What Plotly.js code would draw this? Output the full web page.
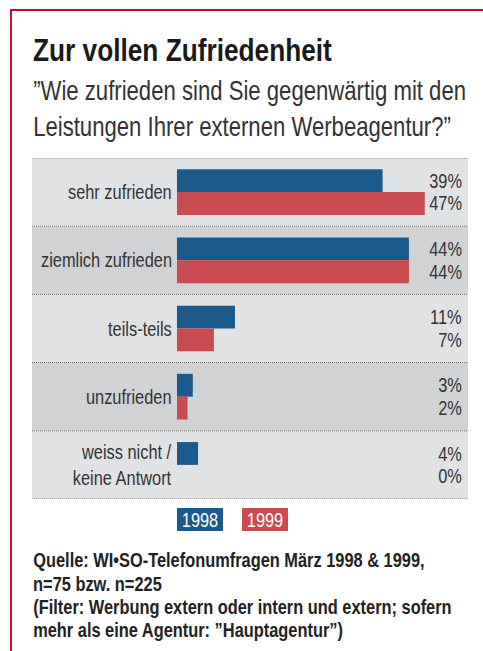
<!DOCTYPE html>
<html>
<head>
<meta charset="utf-8">
<script src="https://cdn.plot.ly/plotly-3.0.1.min.js"></script>
<style>html,body{margin:0;padding:0;background:#fff;}</style>
</head>
<body>
<div id="chart" style="width:483px;height:651px;"></div>
<script>
const categories = ["sehr zufrieden", "ziemlich zufrieden", "teils-teils", "unzufrieden", "weiss nicht /<br>keine Antwort"];
const values1998 = [39, 44, 11, 3, 4];
const values1999 = [47, 44, 7, 2, 0];
const seriesNames = ["1998", "1999"];
const titleText = "Zur vollen Zufriedenheit";
const subtitleLines = ["\u201DWie zufrieden sind Sie gegenwärtig mit den", "Leistungen Ihrer externen Werbeagentur?\u201D"];
const sourceLines = [
  "Quelle: WI\u2022SO-Telefonumfragen März 1998 & 1999,",
  "n=75 bzw. n=225",
  "(Filter: Werbung extern oder intern und extern; sofern",
  "mehr als eine Agentur: \u201DHauptagentur\u201D)"
];

const W = 483, H = 651;
const mL = 32, mR = 15, mT = 158, mB = 152;
const pw = W - mL - mR, ph = H - mT - mB;
const px = x => (x - mL) / pw;
const py = y => 1 - (y - mT) / ph;

const FONT = "Liberation Sans, Arial, sans-serif";
const NARROW = 0.82;
const BLUE = "#1c5a8b", RED = "#c94a4f", TXT = "#333333";
const LIGHT = "#e1e2e4", DARK = "#d1d2d4";

const traces = [
  {type: "bar", orientation: "h", name: seriesNames[0], y: categories, x: values1998,
   marker: {color: BLUE}, hoverinfo: "none"},
  {type: "bar", orientation: "h", name: seriesNames[1], y: categories, x: values1999,
   marker: {color: RED}, hoverinfo: "none"}
];

const shapes = [];
categories.forEach((c, i) => {
  shapes.push({type: "rect", xref: "paper", yref: "y", x0: 0, x1: 1, y0: i - 0.5, y1: i + 0.5,
    fillcolor: i % 2 === 0 ? LIGHT : DARK, line: {width: 0}, layer: "below"});
});
for (let i = 0; i <= categories.length; i++) {
  shapes.push({type: "line", xref: "paper", yref: "y", x0: 0, x1: 1, y0: i - 0.5, y1: i - 0.5,
    line: {color: "#6a6a6a", width: 1, dash: "1px,1px"}, layer: "above"});
}
// red frame
shapes.push({type: "line", xref: "paper", yref: "paper", x0: px(10), x1: px(490), y0: py(10), y1: py(10),
  line: {color: "#c8102e", width: 2}});
shapes.push({type: "line", xref: "paper", yref: "paper", x0: px(11), x1: px(11), y0: py(9), y1: py(660),
  line: {color: "#c8102e", width: 2}});

const ann = [];
const anchorMode = [];
function add(a, mode) { ann.push(a); anchorMode.push(mode); }

add({xref: "paper", yref: "paper", x: px(31), y: py(49.5), xanchor: "left", yanchor: "middle",
  text: "<b>" + titleText + "</b>", showarrow: false, font: {family: FONT, size: 32, color: "#1a1a1a"}}, "left");
const subBase = [101, 136.5];
subtitleLines.forEach((t, i) => {
  add({xref: "paper", yref: "paper", x: px(31), y: py(subBase[i] - 9.5), xanchor: "left", yanchor: "middle",
    text: t, showarrow: false, font: {family: FONT, size: 27, color: TXT}}, "left");
});
categories.forEach((c, i) => {
  add({xref: "x", yref: "y", x: 0, y: i, xanchor: "right", yanchor: "middle", xshift: -3,
    text: c, showarrow: false, font: {family: FONT, size: 20, color: TXT}, align: "right"}, "right");
  add({xref: "paper", yref: "y", x: px(464), y: i - 0.1667, xanchor: "right", yanchor: "middle",
    text: values1998[i] + "%", showarrow: false, font: {family: FONT, size: 20, color: TXT}}, "right");
  add({xref: "paper", yref: "y", x: px(464), y: i + 0.1667, xanchor: "right", yanchor: "middle",
    text: values1999[i] + "%", showarrow: false, font: {family: FONT, size: 20, color: TXT}}, "right");
});
// legend boxes
[[177, BLUE], [242, RED]].forEach((d, k) => {
  add({xref: "paper", yref: "paper", x: px(d[0]), y: py(508), xanchor: "left", yanchor: "top",
    width: 46, height: 23, borderpad: 0, borderwidth: 0, bgcolor: d[1],
    text: seriesNames[k], showarrow: false, font: {family: FONT, size: 20, color: "#ffffff"}}, "center");
});
const srcBase = [567, 591, 614, 637];
sourceLines.forEach((t, i) => {
  add({xref: "paper", yref: "paper", x: px(31), y: py(srcBase[i] - 7), xanchor: "left", yanchor: "middle",
    text: "<b>" + t + "</b>", showarrow: false, font: {family: FONT, size: 20, color: "#222222"}}, "left");
});

const layout = {
  width: W, height: H,
  margin: {l: mL, r: mR, t: mT, b: mB, pad: 0},
  paper_bgcolor: "#ffffff", plot_bgcolor: "rgba(0,0,0,0)",
  barmode: "group", bargap: 0.33, bargroupgap: 0,
  showlegend: false,
  xaxis: {range: [-27.5, 55.2], visible: false, fixedrange: true},
  yaxis: {type: "category", range: [4.5, -0.5], visible: false, fixedrange: true},
  shapes: shapes,
  annotations: ann,
  font: {family: FONT}
};

function condense() {
  const gd = document.getElementById("chart");
  gd.querySelectorAll("g.annotation").forEach(g => {
    const idx = +g.getAttribute("data-index");
    const t = g.querySelector("text.annotation-text");
    if (!t || t.getAttribute("data-condensed")) return;
    const bb = t.getBBox();
    const mode = anchorMode[idx];
    let cx = bb.x;
    if (mode === "right") cx = bb.x + bb.width;
    else if (mode === "center") cx = bb.x + bb.width / 2;
    const prev = t.getAttribute("transform") || "";
    t.setAttribute("transform", prev + " translate(" + cx + ",0) scale(" + NARROW + ",1) translate(" + (-cx) + ",0)");
    t.setAttribute("data-condensed", "1");
  });
}

Plotly.newPlot("chart", traces, layout, {displayModeBar: false, staticPlot: true}).then(condense);
</script>
</body>
</html>
